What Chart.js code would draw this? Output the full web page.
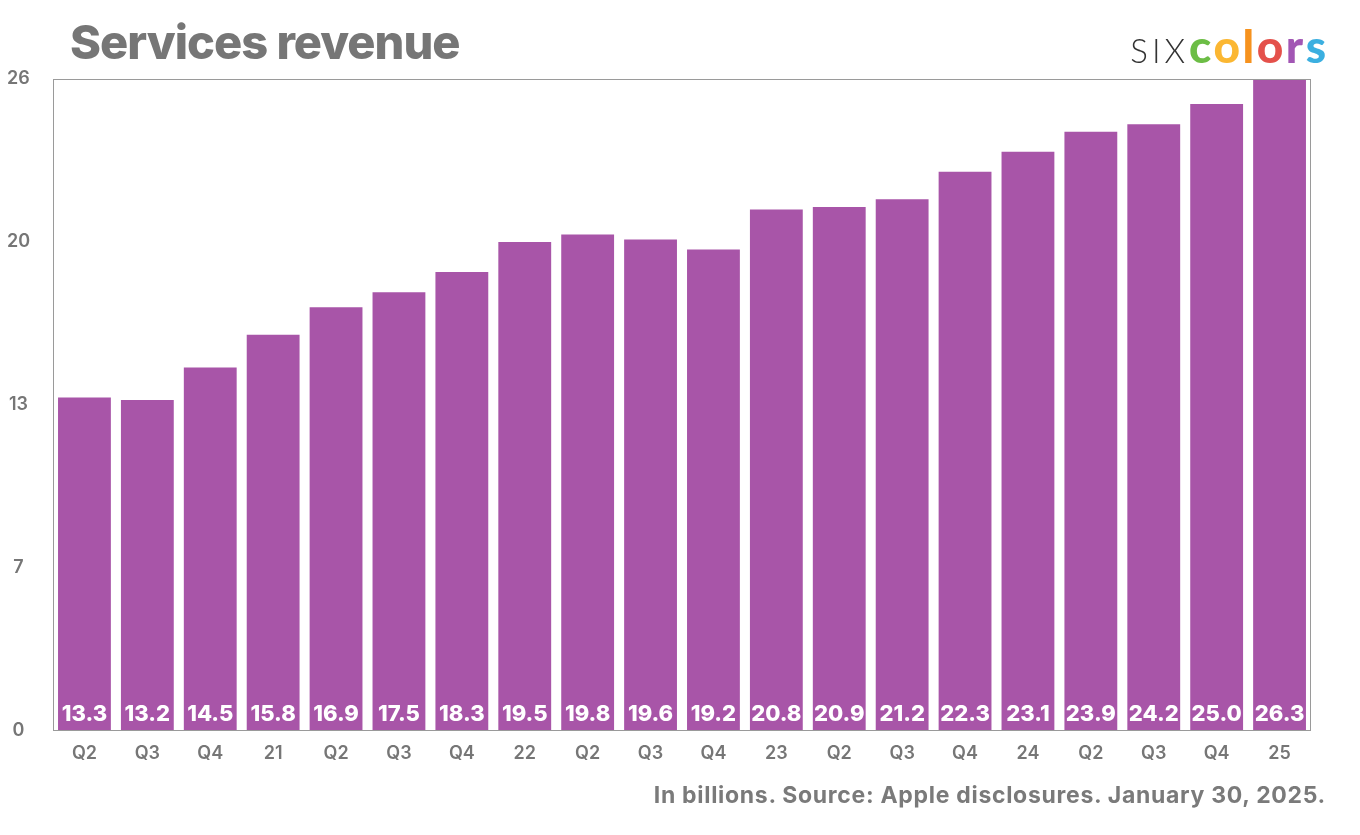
<!DOCTYPE html>
<html>
<head>
<meta charset="utf-8">
<script src="https://cdn.jsdelivr.net/npm/chart.js@4"></script>
<style>
  html, body { margin: 0; padding: 0; background: #fff; }
  #wrap { position: relative; width: 1360px; height: 835px; font-family: Inter, "Open Sans", sans-serif; }
  #title { position: absolute; left: 70px; top: 13px; font-size: 47px; font-weight: 800; color: #767676; letter-spacing: -1px; }
  #logo { position: absolute; right: 34px; top: 18px; white-space: nowrap; }
  #logo .six { font-family: Lato, sans-serif; font-weight: 300; font-size: 33px; color: #333; letter-spacing: 4px; margin-right: 0px; }
  #logo .c { font-family: Lato, sans-serif; font-weight: 900; font-size: 46px; letter-spacing: 2.5px; }
  #foot { position: absolute; right: 34px; top: 781px; font-size: 23px; font-weight: 700; color: #7a7a7a; letter-spacing: 0.7px; }
  canvas { position: absolute; left: 0; top: 0; }
</style>
</head>
<body>
<div id="wrap">
  <canvas id="chart" width="1360" height="835"></canvas>
  <div id="title">Services revenue</div>
  <div id="logo"><span class="six">SIX</span><span class="c" style="color:#6cbd45">c</span><span class="c" style="color:#fbb732">o</span><span class="c" style="color:#f6921e">l</span><span class="c" style="color:#e4514b">o</span><span class="c" style="color:#a256b4">r</span><span class="c" style="color:#3bafe0;letter-spacing:0">s</span></div>
  <div id="foot">In billions. Source: Apple disclosures. January 30, 2025.</div>
</div>
<script>
const quarters = ["Q2", "Q3", "Q4", "21", "Q2", "Q3", "Q4", "22", "Q2", "Q3", "Q4", "23", "Q2", "Q3", "Q4", "24", "Q2", "Q3", "Q4", "25"];
const revenue = [13.3, 13.2, 14.5, 15.8, 16.9, 17.5, 18.3, 19.5, 19.8, 19.6, 19.2, 20.8, 20.9, 21.2, 22.3, 23.1, 23.9, 24.2, 25.0, 26.3];
const yTickValues = [0, 6.5, 13, 19.5, 26];
const yTickLabels = ["0", "7", "13", "20", "26"];

const GRAY = "#767676";
const PURPLE = "#a855a8";

// box round the plot + white value labels at the foot of each bar
const plotDecor = {
  id: "plotDecor",
  afterDatasetsDraw(chart) {
    const { ctx, chartArea: a } = chart;
    ctx.save();
    ctx.strokeStyle = "#9a9a9a";
    ctx.lineWidth = 1;
    ctx.strokeRect(a.left + 0.5, a.top + 0.5, a.right - a.left - 1, a.bottom - a.top - 1);

    ctx.fillStyle = "#fff";
    ctx.font = "800 22px Inter, 'Open Sans', sans-serif";
    ctx.textAlign = "center";
    ctx.textBaseline = "middle";
    chart.getDatasetMeta(0).data.forEach((bar, i) => {
      ctx.fillText(revenue[i].toFixed(1), bar.x, a.bottom - 17);
    });
    ctx.restore();
  }
};

new Chart(document.getElementById("chart"), {
  type: "bar",
  data: {
    labels: quarters,
    datasets: [{
      data: revenue,
      backgroundColor: PURPLE,
      borderWidth: 0,
      barPercentage: 0.84,
      categoryPercentage: 1.0,
    }],
  },
  options: {
    responsive: false,
    animation: false,
    layout: { padding: { top: 79, right: 49, left: 0, bottom: 0 } },
    plugins: {
      legend: { display: false },
      tooltip: { enabled: false },
    },
    scales: {
      x: {
        grid: { display: false, drawTicks: false },
        border: { display: false },
        ticks: { color: GRAY, font: { family: "Inter", size: 18, weight: "600" }, padding: 12, maxRotation: 0, autoSkip: false },
        afterFit(scale) { scale.height = 104; },
      },
      y: {
        min: 0,
        max: 26,
        grid: { display: false, drawTicks: false },
        border: { display: false },
        afterBuildTicks(scale) { scale.ticks = yTickValues.map(v => ({ value: v })); },
        ticks: {
          color: GRAY,
          font: { family: "Inter", size: 18, weight: "600" },
          crossAlign: "center",
          padding: 23,
          callback: (v) => yTickLabels[yTickValues.indexOf(v)],
        },
        afterFit(scale) { scale.width = 53; },
      },
    },
  },
  plugins: [plotDecor],
});
</script>
</body>
</html>
